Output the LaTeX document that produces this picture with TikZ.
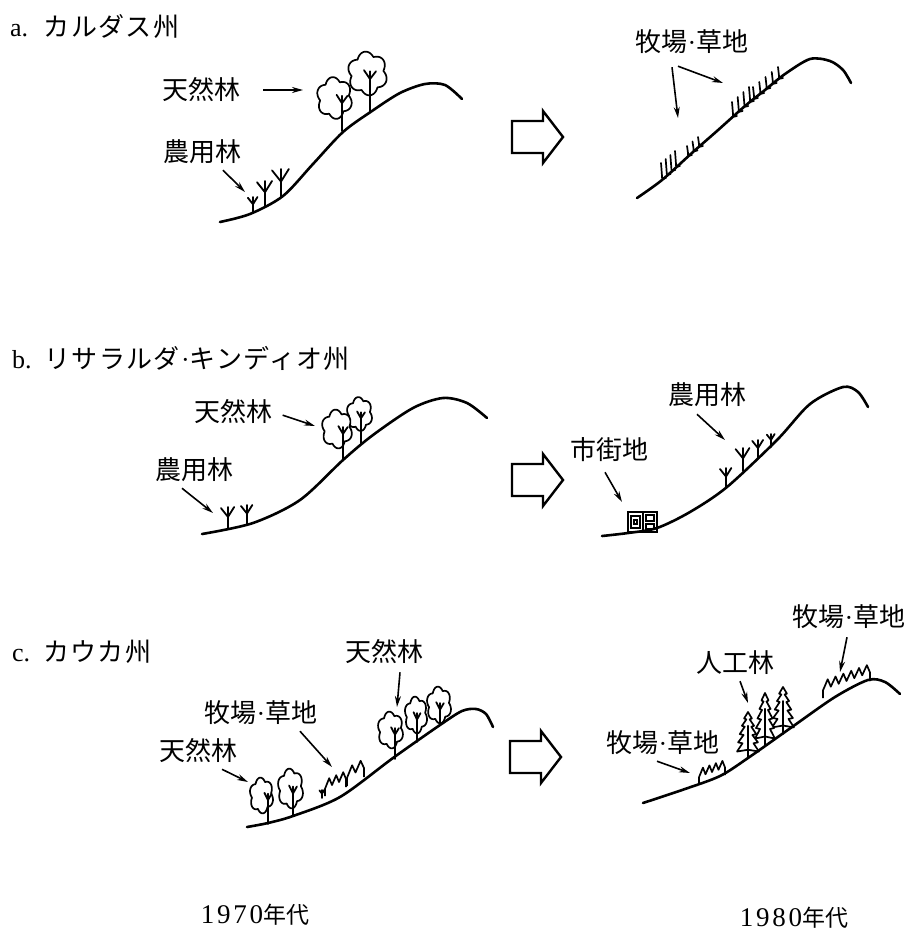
\documentclass[tikz,border=0pt]{standalone}
\usepackage{fontspec}
\setmainfont{Liberation Serif}
\newfontfamily\jp{Noto Sans CJK JP}
\usepackage{tikz}
\usetikzlibrary{calc}
\usetikzlibrary{arrows.meta}
\tikzset{tag/.style={font=\jp\fontsize{26}{28}\selectfont,inner sep=1pt}}
\tikzset{title/.style={font=\fontsize{26}{28}\selectfont,inner sep=0pt,anchor=west}}
\tikzset{decade/.style={font=\fontsize{27}{28}\selectfont,inner sep=0pt}}
\tikzset{pointer/.style={-{Stealth[length=11pt,width=6pt]},line width=1.6pt}}
\tikzset{ground/.style={line width=2.6pt,line cap=round}}
\tikzset{crown/.style={line width=1.7pt,fill=white,line join=round}}
\tikzset{stem/.style={line width=1.8pt,line cap=round}}
\tikzset{blade/.style={line width=1.7pt,line cap=round}}
\tikzset{shiftarrow/.pic={\draw[line width=2.4pt,line join=miter] (0,-16) -- (31,-16) -- (31,-26) -- (51,0) -- (31,26) -- (31,16) -- (0,16) -- cycle;}}

% crown centre x, y, half width, half height, trunk x, ground y
\newcommand{\leaftree}[6]{%
  \draw[crown] plot[domain=0:360,samples=144,variable=\t]
    ({#1+#3*(0.8+0.2*abs(sin(3*\t+25)))*cos(\t)},{#2+#4*(0.8+0.2*abs(sin(3*\t+25)))*sin(\t)}) -- cycle;
  \draw[stem] (#5,#6) -- (#5,{#2-0.1*#4});
  \draw[stem] (#5,{#2+0.25*#4}) -- ({#5-0.3*#3},{#2-0.15*#4});
  \draw[stem] (#5,{#2+0.25*#4}) -- ({#5+0.3*#3},{#2-0.1*#4});
}
% x, ground y, height
\newcommand{\agtree}[3]{%
  \draw[stem] (#1,#2) -- (#1,{#2-#3});
  \draw[stem] (#1,{#2-0.55*#3}) -- ({#1-0.32*#3},{#2-0.95*#3});
  \draw[stem] (#1,{#2-0.55*#3}) -- ({#1+0.28*#3},{#2-1.0*#3});
}
% x1, g1, x2, g2, count, height
\newcommand{\grassrow}[6]{%
  \foreach \i in {1,...,#5}{
    \pgfmathsetmacro{\gx}{#1+(#3-#1)*(\i-1)/(#5-1)}
    \pgfmathsetmacro{\gy}{#2+(#4-#2)*(\i-1)/(#5-1)}
    \draw[blade] ({\gx-1},{\gy-#6}) -- (\gx,{\gy-3}) .. controls (\gx,\gy) .. ({\gx+4},{\gy-1});
  }}
% x1, g1, x2, g2, height, spikes
\newcommand{\tuft}[6]{%
  \draw[crown] (#1,#2) -- (#1,{#2-0.45*#5})
    \foreach \i in {1,...,#6}{ -- ({#1+(#3-#1)*(\i-0.4)/#6},{#2+(#4-#2)*(\i-0.4)/#6-#5}) -- ({#1+(#3-#1)*\i/#6},{#2+(#4-#2)*\i/#6-0.5*#5}) }
    -- (#3,#4);
}
% x, ground y, half width, height
\newcommand{\conifer}[4]{%
  \draw[crown] (#1,{#2-#4}) -- ({#1+0.35*#3},{#2-0.86*#4}) -- ({#1+0.15*#3},{#2-0.84*#4})
    -- ({#1+0.55*#3},{#2-0.7*#4}) -- ({#1+0.3*#3},{#2-0.68*#4})
    -- ({#1+0.75*#3},{#2-0.52*#4}) -- ({#1+0.4*#3},{#2-0.5*#4})
    -- ({#1+0.9*#3},{#2-0.34*#4}) -- ({#1+0.5*#3},{#2-0.32*#4})
    -- ({#1+#3},{#2-0.14*#4}) -- (#1,{#2-0.18*#4}) -- ({#1-#3},{#2-0.14*#4})
    -- ({#1-0.5*#3},{#2-0.32*#4}) -- ({#1-0.9*#3},{#2-0.34*#4})
    -- ({#1-0.4*#3},{#2-0.5*#4}) -- ({#1-0.75*#3},{#2-0.52*#4})
    -- ({#1-0.3*#3},{#2-0.68*#4}) -- ({#1-0.55*#3},{#2-0.7*#4})
    -- ({#1-0.15*#3},{#2-0.84*#4}) -- ({#1-0.35*#3},{#2-0.86*#4}) -- cycle;
  \draw[stem] (#1,#2) -- (#1,{#2-0.7*#4});
}

\begin{document}
\begin{tikzpicture}[x=1pt,y=-1pt]
\useasboundingbox (0,0) rectangle (908,934);

% a. Caldas
\node[title] (ttlA) at (10,27) {a.\hspace{0.6em}{\jp\addfontfeature{LetterSpace=5}カルダス州}};
\leaftree{367.5}{73.5}{20}{22}{370}{112}
\leaftree{334.5}{98}{18}{21}{342}{131}
\agtree{253}{213}{16}
\agtree{265}{206}{25}
\agtree{281}{197}{28}
\draw[ground] plot[smooth] coordinates {(220,222) (250,214) (283,196) (313,164) (343,132) (372,111) (400,93) (425,84) (445,85) (462,99)};
\node[tag] (natA) at (201,90) {天然林};
\node[tag] (agrA) at (202,152) {農用林};
\coordinate (natAtip) at (303,90);
\coordinate (agrAtip) at (245,192);
\draw[pointer,shorten <=22pt] (natA.east) -- (natAtip);
\draw[pointer,shorten <=7pt] ([xshift=16pt]agrA.south) -- (agrAtip);

\pic (turnA) at (512,137) {shiftarrow};

\grassrow{662}{179}{676}{167}{4}{16}
\grassrow{688}{156}{699}{147}{3}{10}
\grassrow{733}{117}{750}{102}{4}{15}
\grassrow{754}{99}{779}{79}{5}{12}
\draw[ground] plot[smooth] coordinates {(637,198) (662,180) (693,152) (717,131) (745,106) (765,90) (785,74) (810,59) (830,61) (843,70) (851,83)};
\node[tag] (pastA) at (692,42) {牧場\textrm{·}草地};
\coordinate (pastAtip1) at (678,118);
\coordinate (pastAtip2) at (723,83);
\draw[pointer] ([xshift=-20pt,yshift=-12pt]pastA.south) -- (pastAtip1);
\draw[pointer] ([xshift=-14pt,yshift=-11pt]pastA.south) -- (pastAtip2);

% b. Risaralda, Quindio
\node[title] (ttlB) at (12,358) {b.\hspace{0.5em}{\jp\addfontfeature{LetterSpace=5}リサラルダ\textrm{·}キンディオ州}};
\leaftree{359.5}{414}{13}{17}{361}{444}
\leaftree{337}{429}{15.5}{19.5}{343}{460}
\agtree{228}{529}{22}
\agtree{247}{524}{19}
\draw[ground] plot[smooth] coordinates {(202,534) (253,523) (300,500) (343,460) (373,435) (413,408) (443,398) (467,403) (487,418)};
\node[tag] (natB) at (233,412) {天然林};
\node[tag] (agrB) at (194,470) {農用林};
\coordinate (natBtip) at (315,426);
\coordinate (agrBtip) at (213,513);
\draw[pointer,shorten <=10pt] (natB.east) -- (natBtip);
\draw[pointer] ([xshift=-12pt,yshift=-5pt]agrB.south) -- (agrBtip);

\pic (turnB) at (512,480) {shiftarrow};

\draw[stem] (628,512) rectangle (657,532);
\draw[blade] (643,512) -- (643,532);
\draw[blade] (631,516) rectangle (640,528);
\draw[blade] (634,520) rectangle (637,524);
\draw[blade] (646,515) rectangle (654,521);
\draw[blade] (646,524) rectangle (654,529);
\agtree{726}{487}{19}
\agtree{743}{471}{23}
\agtree{758}{458}{18}
\agtree{771}{447}{13}
\draw[ground] plot[smooth] coordinates {(602,536) (628,533) (657,528) (690,512) (727,487) (777,440) (810,404) (843,387) (858,392) (868,407)};
\node[tag] (agrBR) at (707,395) {農用林};
\node[tag] (cityB) at (609,450) {市街地};
\coordinate (agrBRtip) at (725,440);
\coordinate (cityBtip) at (622,502);
\draw[pointer] ([xshift=-10pt,yshift=-6pt]agrBR.south) -- (agrBRtip);
\draw[pointer] ([xshift=-4pt,yshift=-9pt]cityB.south) -- (cityBtip);

% c. Cauca
\node[title] (ttlC) at (12,652) {c.\hspace{0.5em}{\jp\addfontfeature{LetterSpace=5}カウカ州}};
\leaftree{439}{705}{12.5}{18.5}{440}{725}
\leaftree{416}{715}{11.5}{18.5}{417}{742}
\leaftree{390.5}{730}{13}{18.5}{395}{759}
\leaftree{261.5}{795.5}{12}{18}{268}{824}
\leaftree{290.5}{788.5}{13}{20}{293}{816}
\tuft{325}{796}{346}{787}{16}{3}
\tuft{347}{786}{364}{777}{18}{2}
\agtree{322}{798}{8}
\draw[ground] plot[smooth] coordinates {(247,827) (268,823) (293,816) (340,797) (393,758) (440,725) (462,711) (476,709) (486,714) (493,727)};
\node[tag] (natC) at (384,652) {天然林};
\node[tag] (pastC) at (261,713) {牧場\textrm{·}草地};
\node[tag] (natCL) at (198,751) {天然林};
\coordinate (natCtip) at (397,707);
\coordinate (pastCtip) at (332,767);
\coordinate (natCLtip) at (248,782);
\draw[pointer] ([xshift=16pt,yshift=-7pt]natC.south) -- (natCtip);
\draw[pointer] ([xshift=39pt,yshift=-5pt]pastC.south) -- (pastCtip);
\draw[pointer] ([xshift=24pt,yshift=-5pt]natCL.south) -- (natCLtip);

\pic (turnC) at (510,757) {shiftarrow};

\tuft{699}{784}{725}{775}{15}{4}
\tuft{823}{698}{870}{681}{17}{6}
\conifer{783}{734}{11}{47}
\conifer{765}{746}{10}{53}
\conifer{748}{758}{11}{46}
\draw[ground] plot[smooth] coordinates {(643,803) (685,789) (720,776) (748,758) (792,727) (835,697) (868,680) (885,682) (900,694)};
\node[tag] (pastCR) at (849,617) {牧場\textrm{·}草地};
\node[tag] (artC) at (735,663) {人工林};
\node[tag] (pastCR2) at (663,743) {牧場\textrm{·}草地};
\coordinate (pastCRtip) at (840,672);
\coordinate (artCtip) at (748,703);
\coordinate (pastCR2tip) at (690,773);
\draw[pointer] ([xshift=-2pt,yshift=-7pt]pastCR.south) -- (pastCRtip);
\draw[pointer] ([xshift=5pt,yshift=-5pt]artC.south) -- (artCtip);
\draw[pointer] ([xshift=-6pt,yshift=-5pt]pastCR2.south) -- (pastCR2tip);

\node[decade] (yrA) at (255,915) {\addfontfeature{LetterSpace=10}1970{\jp\fontsize{23}{26}\selectfont 年代}};
\node[decade] (yrB) at (794,918) {\addfontfeature{LetterSpace=10}1980{\jp\fontsize{23}{26}\selectfont 年代}};
\end{tikzpicture}
\end{document}
